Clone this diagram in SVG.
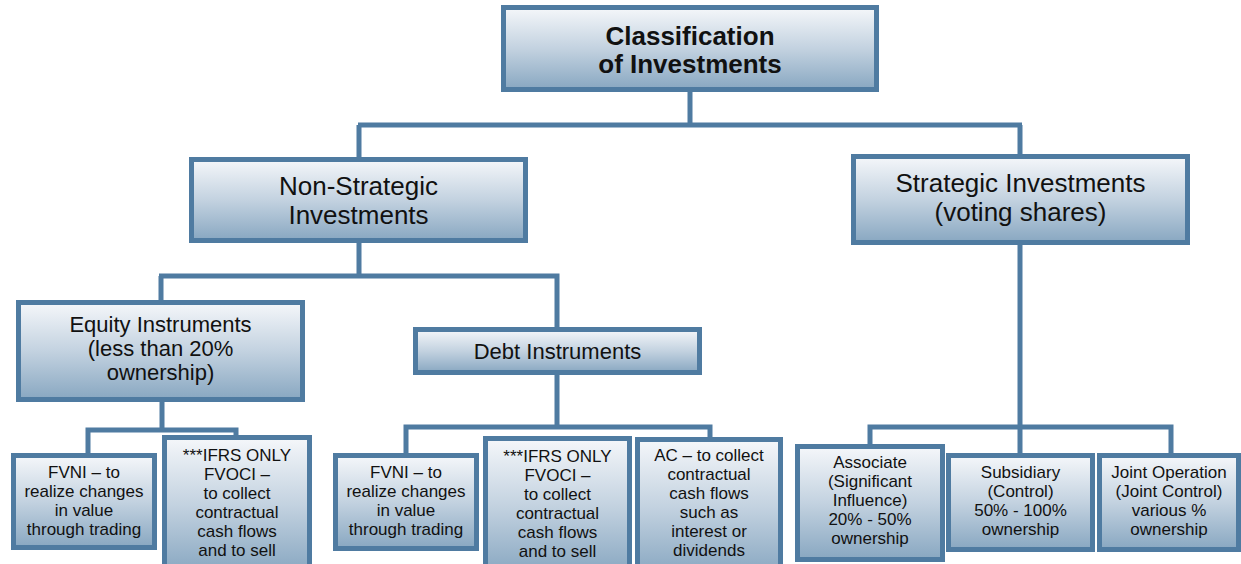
<svg xmlns="http://www.w3.org/2000/svg" width="1241" height="564" viewBox="0 0 1241 564">
<defs>
<linearGradient id="g" x1="0" y1="0" x2="0" y2="1">
<stop offset="0" stop-color="#f5f7fa"/>
<stop offset="0.5" stop-color="#c3d2e0"/>
<stop offset="1" stop-color="#88a7c1"/>
</linearGradient>
<style>
.box{fill:url(#g);stroke:#4f7ba1;stroke-width:5}
.c{fill:none;stroke:#4f7ba1;stroke-width:5}
text{font-family:"Liberation Sans",Arial,sans-serif;fill:#111;text-anchor:middle}
.t0{font-size:26px;font-weight:bold}
.t1{font-size:26px}
.t2{font-size:22px}
.t3{font-size:17px}
</style>
</defs>
<rect width="1241" height="564" fill="#ffffff"/>
<g id="connectors">
<path class="c" d="M690,92V125M358,125H1022M359,125V157M1020,125V154"/>
<path class="c" d="M359,243V276M159,276H559.5M161,276V300M557,276V327"/>
<path class="c" d="M1020,245V427M867.5,427H1173.5M870,427V444M1020,427V453M1171,427V453"/>
<path class="c" d="M162,402V430M85.5,430H238.5M88,430V453M236,430V435"/>
<path class="c" d="M557,375V427M403.5,427H712.5M406,427V453M710,427V437"/>
</g>
<g id="n-top">
<rect class="box" x="503.5" y="7.5" width="373" height="82"/>
<text class="t0" x="690" y="45">Classification</text>
<text class="t0" x="690" y="73">of Investments</text>
</g>
<g id="n-nonstrategic">
<rect class="box" x="191.5" y="159.5" width="334" height="81"/>
<text class="t1" x="358.5" y="195">Non-Strategic</text>
<text class="t1" x="358.5" y="224">Investments</text>
</g>
<g id="n-strategic">
<rect class="box" x="853.5" y="156.5" width="334" height="86"/>
<text class="t1" x="1020.5" y="192">Strategic Investments</text>
<text class="t1" x="1020.5" y="221">(voting shares)</text>
</g>
<g id="n-equity">
<rect class="box" x="18.5" y="302.5" width="284" height="97"/>
<text class="t2" x="160.5" y="332">Equity Instruments</text>
<text class="t2" x="160.5" y="356">(less than 20%</text>
<text class="t2" x="160.5" y="380">ownership)</text>
</g>
<g id="n-debt">
<rect class="box" x="415.5" y="329.5" width="284" height="43"/>
<text class="t2" x="557.5" y="359">Debt Instruments</text>
</g>
<g id="n-fvni1">
<rect class="box" x="13.5" y="455.5" width="141" height="92"/>
<text class="t3" x="84" y="478">FVNI – to</text>
<text class="t3" x="84" y="497">realize changes</text>
<text class="t3" x="84" y="516">in value</text>
<text class="t3" x="84" y="535">through trading</text>
</g>
<g id="n-fvoci1">
<rect class="box" x="164.5" y="437.5" width="145" height="135"/>
<text class="t3" x="237" y="461">***IFRS ONLY</text>
<text class="t3" x="237" y="480">FVOCI –</text>
<text class="t3" x="237" y="499">to collect</text>
<text class="t3" x="237" y="518">contractual</text>
<text class="t3" x="237" y="537">cash flows</text>
<text class="t3" x="237" y="556">and to sell</text>
</g>
<g id="n-fvni2">
<rect class="box" x="335.5" y="455.5" width="141" height="93"/>
<text class="t3" x="406" y="478">FVNI – to</text>
<text class="t3" x="406" y="497">realize changes</text>
<text class="t3" x="406" y="516">in value</text>
<text class="t3" x="406" y="535">through trading</text>
</g>
<g id="n-fvoci2">
<rect class="box" x="485.5" y="438.5" width="144" height="135"/>
<text class="t3" x="557.5" y="462">***IFRS ONLY</text>
<text class="t3" x="557.5" y="481">FVOCI –</text>
<text class="t3" x="557.5" y="500">to collect</text>
<text class="t3" x="557.5" y="519">contractual</text>
<text class="t3" x="557.5" y="538">cash flows</text>
<text class="t3" x="557.5" y="557">and to sell</text>
</g>
<g id="n-ac">
<rect class="box" x="637.5" y="439.5" width="143" height="135"/>
<text class="t3" x="709" y="461">AC – to collect</text>
<text class="t3" x="709" y="480">contractual</text>
<text class="t3" x="709" y="499">cash flows</text>
<text class="t3" x="709" y="518">such as</text>
<text class="t3" x="709" y="537">interest or</text>
<text class="t3" x="709" y="556">dividends</text>
</g>
<g id="n-associate">
<rect class="box" x="797.5" y="446.5" width="145" height="113"/>
<text class="t3" x="870" y="468">Associate</text>
<text class="t3" x="870" y="487">(Significant</text>
<text class="t3" x="870" y="506">Influence)</text>
<text class="t3" x="870" y="525">20% - 50%</text>
<text class="t3" x="870" y="544">ownership</text>
</g>
<g id="n-subsidiary">
<rect class="box" x="948.5" y="455.5" width="144" height="94"/>
<text class="t3" x="1020.5" y="478">Subsidiary</text>
<text class="t3" x="1020.5" y="497">(Control)</text>
<text class="t3" x="1020.5" y="516">50% - 100%</text>
<text class="t3" x="1020.5" y="535">ownership</text>
</g>
<g id="n-joint">
<rect class="box" x="1099.5" y="455.5" width="139" height="94"/>
<text class="t3" x="1169" y="478">Joint Operation</text>
<text class="t3" x="1169" y="497">(Joint Control)</text>
<text class="t3" x="1169" y="516">various %</text>
<text class="t3" x="1169" y="535">ownership</text>
</g>
</svg>
